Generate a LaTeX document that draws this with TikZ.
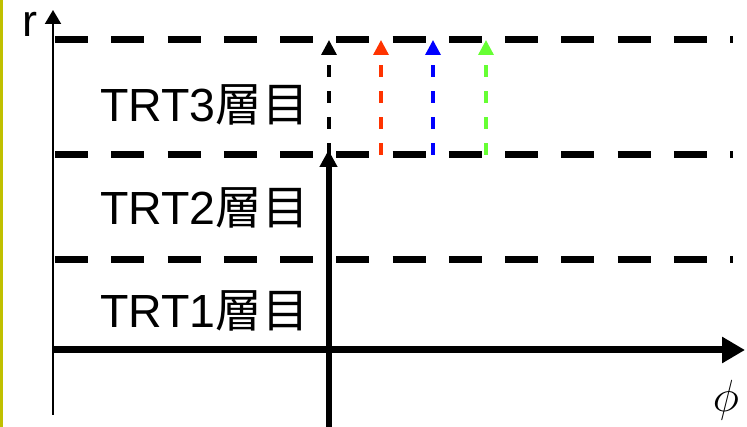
\documentclass[tikz,border=0pt]{standalone}
\usepackage{fix-cm}
\usepackage{fontspec}
\setmainfont{Liberation Sans}
\newfontfamily\cjk{Noto Sans CJK JP}
\usetikzlibrary{arrows.meta}
\definecolor{barcol}{HTML}{C0C000}
\definecolor{redA}{HTML}{FF3300}
\definecolor{blueA}{HTML}{0000FF}
\definecolor{greenA}{HTML}{66FF33}
\begin{document}
\begin{tikzpicture}[x=1pt,y=-1pt,
  layerline/.style={line width=7pt, dash pattern=on 33pt off 23.25pt},
  trans/.style={line width=3.3pt, dash pattern=on 12pt off 14pt, -{Triangle[length=15pt,width=15pt]}},
  lbl/.style={anchor=base west, inner sep=0pt, font=\fontsize{46.5}{50}\selectfont}]
\useasboundingbox (0,0) rectangle (747,427);
\fill[barcol] (0,0) rectangle (2.5,427);
% coordinates
\coordinate (rb) at (53,415);
\coordinate (rt) at (53,10);
\coordinate (pl) at (53,350);
\coordinate (pr) at (745,350);
\coordinate (vb) at (328.5,427);
\coordinate (vt) at (328.5,150);
\foreach \y/\n in {40/l3,155/l2,260/l1} {
  \coordinate (\n a) at (55,\y);
  \coordinate (\n b) at (733,\y);
  \draw[layerline] (\n a) -- (\n b);
}
% axes
\draw[line width=2pt, -{Triangle[length=14pt,width=16pt]}] (rb) -- (rt);
\draw[line width=7pt, -{Triangle[length=23pt,width=25pt]}] (pl) -- (pr);
\draw[line width=6pt, -{Triangle[length=17pt,width=17pt]}] (vb) -- (vt);
% transition arrows
\foreach \x/\c/\n in {329/black/k,381/redA/r,433/blueA/b,486/greenA/g} {
  \coordinate (\n s) at (\x,155);
  \coordinate (\n e) at (\x,40);
  \draw[trans, \c] (\n s) -- (\n e);
}
% labels
\node[lbl] (t3) at (100,122) {TRT3{\cjk 層目}};
\node[lbl] (t2) at (100,225) {TRT2{\cjk 層目}};
\node[lbl] (t1) at (100,328) {TRT1{\cjk 層目}};
\node[lbl, font=\fontsize{45}{50}\selectfont] (rl) at (22,37) {r};
\node[inner sep=0pt, font=\fontsize{45}{50}\selectfont] (ph) at (726,400) {$\phi$};
\end{tikzpicture}
\end{document}
